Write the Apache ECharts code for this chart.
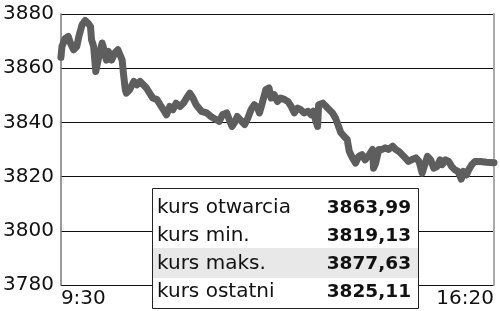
<!DOCTYPE html>
<html>
<head>
<meta charset="utf-8">
<script src="https://cdn.jsdelivr.net/npm/echarts@6/dist/echarts.min.js"></script>
<style>
html,body{margin:0;padding:0;background:#fff;}
#c{width:500px;height:311px;}
</style>
</head>
<body>
<div id="c"></div>
<script>
// minutes since 9:30
var minutes = [0,1,4,7,9,12,15,17,20,23,26,28,29,31,33,36,39,40,43,45,48,51,54,58,59,61,62,65,69,72,75,78,81,84,87,91,94,97,100,103,106,109,113,116,119,122,125,
128,133,138,142,147,150,153,157,160,162,165,167,171,174,177,180,183,186,188,191,194,197,199,202,205,208,212,215,218,221,224,227,230,234,237,239,241,243,244,248,251,254,257,260,
265,268,271,273,276,279,282,285,288,292,295,296,298,301,304,307,310,314,317,320,323,326,329,332,336,339,342,345,347,350,353,356,359,361,364,367,370,373,376,379,381,384,386,389,392,397,403,410];
var values = [3864.0,3868,3871,3871.7,3869.3,3866.8,3868,3871.7,3876,3877.6,3876.5,3875.4,3870.5,3868,3858.8,3864.4,3869.3,3868,3863,3866.2,3863,3865.6,3866.8,3863,3858.8,3852,3850.8,3852,3855.1,3853.9,3855.1,3853.9,3852.7,3850.8,3849,3848.4,3846.5,3844.7,3842.8,3845.9,3844.7,3847.1,3845.9,3847.1,3849,3850.8,3849,
3846.5,3844.1,3843.5,3842.2,3841,3840.4,3842.8,3843.5,3840.4,3838.5,3840.4,3842.2,3840.4,3839.2,3841.6,3844.7,3846.5,3845.5,3843.5,3847.7,3852.1,3852.7,3849,3850.2,3847.7,3849,3848.4,3847.7,3845.9,3843.5,3845.3,3844.7,3843.5,3844.1,3842.8,3844.1,3841,3838.5,3846.5,3847.1,3845.9,3844.7,3843.5,3841.6,
3836.2,3834.9,3833.7,3829.3,3826.9,3825,3827.5,3828.1,3826.2,3828.1,3830,3823.1,3825,3830,3830,3830.6,3830,3831.2,3830,3829.3,3828.1,3826.9,3825.6,3826.2,3826.9,3825.6,3821.3,3825,3827.5,3826.2,3823.1,3823.7,3826.2,3824.4,3826.2,3825.6,3823.7,3822.5,3821.9,3819.1,3821.9,3820.6,3822.5,3824.4,3825.6,3825.6,3825.3,3825.1];
var xTickLabels = {0:'9:30', 410:'16:20'};
var yMin = 3780, yMax = 3880, yStep = 20;
var statLabels = ['kurs otwarcia','kurs min.','kurs maks.','kurs ostatni'];
var statValues = ['3863,99','3819,13','3877,63','3825,11'];

var data = minutes.map(function(m,i){return [m, values[i]];});
var FONT = 'DejaVu Sans';

var graphics = [];
var bx = 152, by = 188, bw = 266, bh = 120, rowH = 28, firstRowY = 208;
graphics.push({type:'rect', z:100, shape:{x:bx+0.5,y:by+0.5,width:bw,height:bh}, style:{fill:'#fff',stroke:'#222',lineWidth:1}});
graphics.push({type:'rect', z:101, shape:{x:bx+1,y:248,width:bw-1,height:30}, style:{fill:'#e8e8e8'}});
statLabels.forEach(function(l,i){
  graphics.push({type:'text', z:102, x:bx+5, y:firstRowY+i*rowH, style:{text:l, fill:'#111', font:'20px "'+FONT+'"', textAlign:'left', textVerticalAlign:'middle'}});
  graphics.push({type:'text', z:102, x:411, y:firstRowY+i*rowH, style:{text:statValues[i], fill:'#111', font:'bold 18.5px "'+FONT+'"', textAlign:'right', textVerticalAlign:'middle'}});
});

var chart = echarts.init(document.getElementById('c'), null, {renderer:'canvas'});
chart.setOption({
  animation:false,
  backgroundColor:'#fff',
  grid:{left:59, right:6, top:14, bottom:26, show:false},
  xAxis:{type:'value', min:0, max:410, interval:410,
    axisLine:{show:false}, axisTick:{show:false}, splitLine:{show:false},
    axisLabel:{show:true, margin:4, fontFamily:FONT, fontSize:20, color:'#111',
      alignMinLabel:'left', alignMaxLabel:'right',
      formatter:function(v){return xTickLabels[v]||'';}}
  },
  yAxis:[{type:'value', min:yMin, max:yMax, interval:yStep,
    axisLine:{show:true, lineStyle:{color:'#777', width:1.5}}, axisTick:{show:false},
    splitLine:{show:true, lineStyle:{color:'#111', width:1}},
    axisLabel:{margin:7, fontFamily:FONT, fontSize:20, color:'#111',
      formatter:function(v){return String(v);}}
  },{type:'value', position:'right', min:yMin, max:yMax, interval:yStep,
    axisLine:{show:true, lineStyle:{color:'#aaa', width:2}}, axisTick:{show:false},
    splitLine:{show:false}, axisLabel:{show:false}
  }],
  series:[{type:'line', data:data, symbol:'none', smooth:false,
    lineStyle:{color:'#5e5e5e', width:7, cap:'round', join:'round'}, z:5}],
  graphic:graphics
});
</script>
</body>
</html>
